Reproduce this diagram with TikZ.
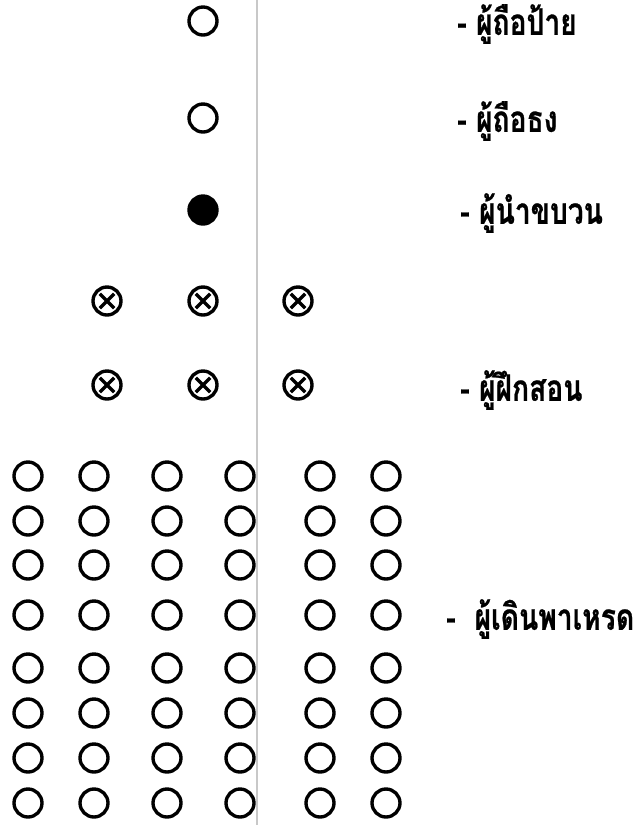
\documentclass[tikz,border=0pt]{standalone}
\usepackage{fontspec}
\newfontfamily\thaifont[Script=Thai, FakeStretch=0.77, FakeBold=0.6]{Loma}
\usepackage{tikz}
\usetikzlibrary{positioning}
\definecolor{paradegray}{RGB}{200,200,200}
\tikzset{
  walker/.style={circle, draw=black, line width=2.4pt, minimum size=0.7cm, inner sep=0pt},
  leader/.style={walker, fill=black},
  coach/.style={walker, path picture={
      \draw[line width=2.4pt] (path picture bounding box.center)
        +(-0.18cm,-0.18cm) -- +(0.18cm,0.18cm) +(-0.18cm,0.18cm) -- +(0.18cm,-0.18cm);}},
  legend/.style={anchor=west, inner sep=0pt, font=\thaifont\bfseries\fontsize{26}{29}\selectfont},
  axisline/.style={draw=paradegray, line width=1.2pt}
}
\begin{document}
\begin{tikzpicture}[x=0.025cm, y=-0.025cm]
  \useasboundingbox (0,0) rectangle (636,825);
  \coordinate (axtop) at (257,0);
  \coordinate (axbot) at (257,825);
  \draw[axisline] (axtop) -- (axbot);

  % front of the parade
  \node[walker] (sign) at (203,21) {};
  \node[walker] (flag) at (203,118) {};
  \node[leader] (lead) at (203,210) {};
  \foreach \r/\y in {1/301, 2/385}
    \foreach \c/\x in {1/107, 2/203, 3/298}
      \node[coach] (coach-\r-\c) at (\x,\y) {};

  % marching block
  \foreach \r/\y in {1/476, 2/521, 3/565, 4/615, 5/668, 6/713, 7/758, 8/803}
    \foreach \c/\x in {1/28, 2/94, 3/167, 4/240, 5/320, 6/386}
      \node[walker] (march-\r-\c) at (\x,\y) {};

  % legend
  \node[legend] (signtext) at (457,24) {- ผู้ถือป้าย};
  \node[legend] (flagtext) at (457,121) {- ผู้ถือธง};
  \node[legend] (leadtext) at (460,213) {- ผู้นำขบวน};
  \node[legend] (coachtext) at (460,390) {- ผู้ฝึกสอน};
  \node[legend] (marchtext) at (446,619) {-\ \ ผู้เดินพาเหรด};
\end{tikzpicture}
\end{document}
